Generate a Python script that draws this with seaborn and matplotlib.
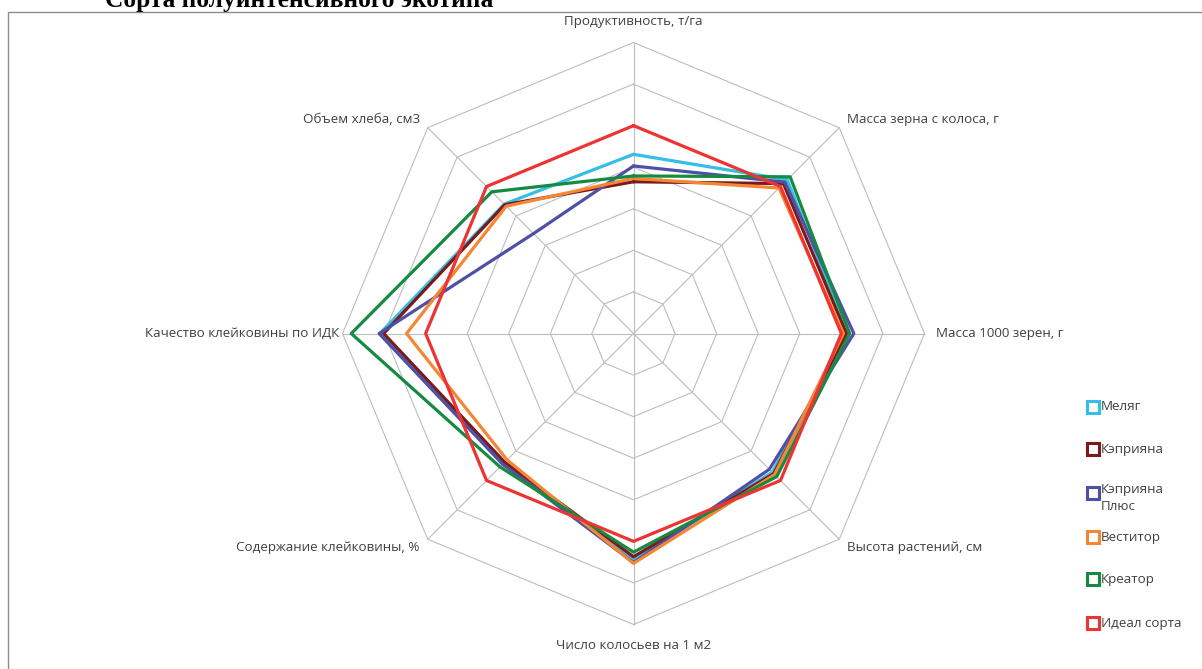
import numpy as np
import pandas as pd
import matplotlib
matplotlib.use("Agg")
import matplotlib.pyplot as plt
from matplotlib.lines import Line2D
from matplotlib.patches import Rectangle
import seaborn as sns

categories = ["Продуктивность, т/га", "Масса зерна с колоса, г", "Масса 1000 зерен, г",
              "Высота растений, см", "Число колосьев на 1 м2", "Содержание клейковины, %",
              "Качество клейковины по ИДК", "Объем хлеба, см3"]
series_names = ["Меляг", "Кэприяна", "Кэприяна Плюс", "Веститор", "Креатор", "Идеал сорта"]
legend_labels = ["Меляг", "Кэприяна", "Кэприяна\nПлюс", "Веститор", "Креатор", "Идеал сорта"]
meliag = [4.31, 5.23, 5.15, 4.72, 5.45, 4.42, 6.10, 4.40]
kepriana = [3.65, 5.10, 5.12, 4.77, 5.37, 4.38, 6.01, 4.38]
kepriana_plus = [4.03, 5.15, 5.30, 4.62, 5.51, 4.45, 6.12, 3.40]
vestitor = [3.73, 4.95, 5.05, 4.80, 5.53, 4.30, 5.46, 4.33]
kreator = [3.79, 5.33, 5.20, 4.87, 5.26, 4.54, 6.79, 4.82]
ideal = [5.0, 5.0, 5.0, 5.0, 5.0, 5.0, 5.0, 5.0]
all_values = [meliag, kepriana, kepriana_plus, vestitor, kreator, ideal]
colors = ["#33BFE6", "#7A1A1A", "#4F4FA6", "#F58634", "#178A42", "#EE3333"]
n_rings = 7

sns.set_theme(style="white")
plt.rcParams["font.family"] = ["Open Sans", "DejaVu Sans"]

W, H = 1202, 669
fig = plt.figure(figsize=(W / 100, H / 100), dpi=100)
ax = fig.add_axes([0, 0, 1, 1])
ax.set_axis_off()

cx, cy_top, R = 633.5, 333.5, 291.0
ppu = R / n_rings
ax.set_xlim(-cx / ppu, (W - cx) / ppu)
ax.set_ylim(-(H - cy_top) / ppu, cy_top / ppu)

n = len(categories)
angles = np.pi / 2 - np.arange(n) * 2 * np.pi / n

# grid
for k in range(1, n_rings + 1):
    xs = np.append(k * np.cos(angles), k * np.cos(angles[0]))
    ys = np.append(k * np.sin(angles), k * np.sin(angles[0]))
    ax.plot(xs, ys, color="#BDBDBD", lw=0.8, zorder=1)
for a in angles:
    ax.plot([0, n_rings * np.cos(a)], [0, n_rings * np.sin(a)], color="#BDBDBD", lw=0.8, zorder=1)

rows = []
for name, vals in zip(series_names, all_values):
    for i, v in enumerate(list(vals) + [vals[0]]):
        a = angles[i % n]
        rows.append({"series": name, "order": i, "x": v * np.cos(a), "y": v * np.sin(a)})
df = pd.DataFrame(rows)
for name, col in zip(series_names, colors):
    sub = df[df["series"] == name]
    sns.lineplot(data=sub, x="x", y="y", sort=False, color=col, lw=2.3, ax=ax,
                 legend=False, estimator=None, zorder=3)

# category labels
label_color = "#404040"
fs = 9.6
offsets = [(0, 21, "center", "center"), (8, 8, "left", "center"), (12, 0, "left", "center"),
           (8, -8, "left", "center"), (0, -21, "center", "center"), (-8, -8, "right", "center"),
           (-3, 0, "right", "center"), (-8, 8, "right", "center")]
for cat, a, (dx, dy, ha, va) in zip(categories, angles, offsets):
    ax.annotate(cat, xy=(n_rings * np.cos(a), n_rings * np.sin(a)), xytext=(dx, dy),
                textcoords="offset pixels", ha=ha, va=va, fontsize=fs, color=label_color)

# legend
leg_y = [407, 449, 493, 537, 579, 623]
for lab, col, y in zip(legend_labels, colors, leg_y):
    fig.add_artist(Line2D([1093 / W], [1 - y / H], marker="s", markersize=8,
                          markerfacecolor="white", markeredgecolor=col, markeredgewidth=2.2,
                          linestyle="none", transform=fig.transFigure))
    if "\n" in lab:
        fig.text(1101 / W, 1 - (y - 10) / H, lab, ha="left", va="top", fontsize=fs,
                 color=label_color, linespacing=1.45)
    else:
        fig.text(1101 / W, 1 - y / H, lab, ha="left", va="center", fontsize=fs,
                 color=label_color)

# chart border (only top/left visible)
fig.add_artist(Rectangle((8 / W, -0.1), 1.2, 1.1 - 12 / H, transform=fig.transFigure,
                         fill=False, edgecolor="#8C8C8C", lw=1.0))

# title, cut off at the top edge as in the reference
fig.text(105 / W, 1 - 7 / H, "Сорта полуинтенсивного экотипа", ha="left", va="baseline",
         fontsize=18.3, fontweight="bold", family="Liberation Serif", color="black")

fig.savefig("out.png", dpi=100)
